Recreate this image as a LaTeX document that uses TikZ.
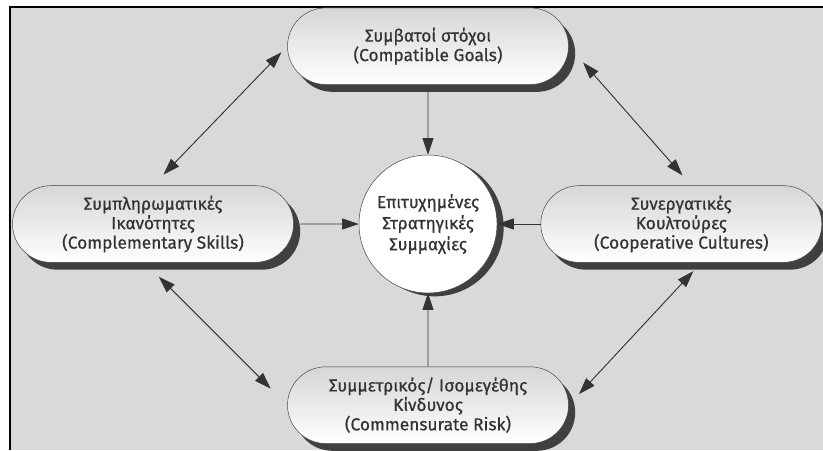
\documentclass[tikz,border=0pt]{standalone}
\usepackage{fontspec}
\setmainfont{Fira Sans}
\newfontfamily\boxfont{Fira Sans}[FakeBold=0.6]
\usetikzlibrary{positioning, shapes.misc, shadows, arrows.meta}

\begin{document}
\begin{tikzpicture}[x=0.03cm, y=-0.03cm,
  box/.style={draw=black!75, rounded rectangle, minimum width=8.5cm, minimum height=2.3cm,
    top color=black!16, bottom color=white, align=center, text=black!80, inner sep=1pt,
    font=\boxfont\fontsize{14.8}{16.6}\selectfont,
    drop shadow={shadow xshift=0.2cm, shadow yshift=-0.22cm, fill=black!75, opacity=1}},
  hub/.style={draw=black!75, circle, minimum size=4.14cm, inner sep=0pt, fill=white,
    align=center, text=black!80, font=\boxfont\fontsize{14.8}{18}\selectfont,
    drop shadow={shadow xshift=0.2cm, shadow yshift=-0.1cm, fill=black!75, opacity=1}},
  arr/.style={draw=black!80, line width=0.8pt, -{Triangle[length=0.5cm, width=0.33cm]}},
  biarr/.style={draw=black!80, line width=0.8pt,
    {Triangle[length=0.5cm, width=0.33cm]}-{Triangle[length=0.5cm, width=0.33cm]}}]
\useasboundingbox (0,0) rectangle (823,450);
\fill[black!15] (10,7) rectangle (823,450);
\draw[line width=1.5pt] (823,7) -- (10,7) -- (10,450);
\node[hub] (c) at (428,224) {Επιτυχημένες\\Στρατηγικές\\Συμμαχίες};
\node[box, above = 2.1cm of c] (t) {Συμβατοί στόχοι\\(Compatible Goals)};
\node[box, left = 1.95cm of c] (l) {Συμπληρωματικές\\Ικανότητες\\(Complementary Skills)};
\node[box, right = 1.3cm of c] (r) {Συνεργατικές\\Κουλτούρες\\(Cooperative Cultures)};
\node[box, below = 2.2cm of c] (b) {Συμμετρικός/ Ισομεγέθης\\Κίνδυνος\\(Commensurate Risk)};
\draw[arr, shorten <=0.2cm] (t) -- (c);
\draw[arr, shorten <=0.2cm] (l) -- (c);
\draw[arr] (r) -- (c);
\draw[arr] (b) -- (c);
\draw[biarr, shorten <=0.25cm, shorten >=0.45cm] (t.west) -- (l.north);
\draw[biarr, shorten <=0.65cm, shorten >=0.4cm] (t.east) -- ([xshift=0.3cm]r.north);
\draw[biarr, shorten <=0.6cm, shorten >=0.7cm] ([xshift=-0.25cm]l.south) -- (b.west);
\draw[biarr, shorten <=0.35cm, shorten >=0.45cm] ([xshift=0.6cm]r.south) -- (b.east);
\end{tikzpicture}
\end{document}
